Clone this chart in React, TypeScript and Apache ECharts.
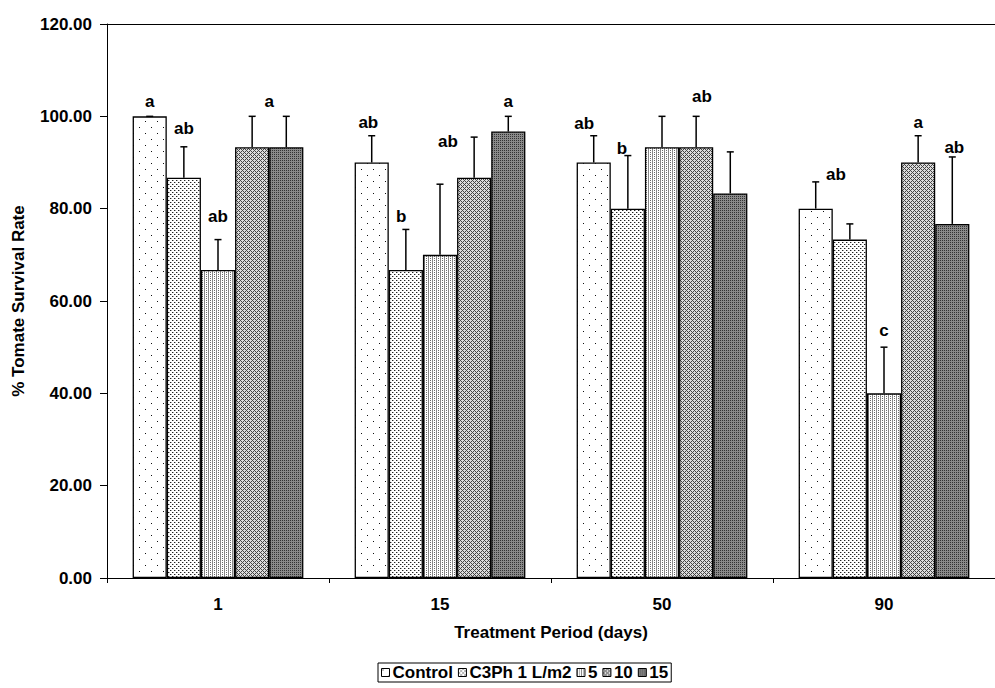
import React, { useEffect, useRef } from 'react';
import * as echarts from 'echarts';

const categories = ['1', '15', '50', '90'];
const seriesNames = ['Control', 'C3Ph 1 L/m2', '5', '10', '15'];

const controlValues = [100, 90, 90, 80];
const c3phValues = [86.7, 66.7, 80, 73.3];
const dose5Values = [66.7, 70, 93.3, 40];
const dose10Values = [93.3, 86.7, 93.3, 90];
const dose15Values = [93.3, 96.7, 83.3, 76.7];

const controlErr = [0, 5.8, 5.8, 5.8];
const c3phErr = [6.7, 8.8, 11.5, 3.4];
const dose5Err = [6.6, 15.3, 6.7, 10];
const dose10Err = [6.7, 8.8, 6.7, 5.8];
const dose15Err = [6.7, 3.3, 9.0, 14.5];

const yMin = 0;
const yMax = 120;
const yInterval = 20;

// significance letters: [category index, series index, letter, label height (value units), shift in bar widths]
const letters: [number, number, string, number, number][] = [
  [0, 0, 'a', 103.2, 0],
  [0, 1, 'ab', 97.3, 0],
  [0, 2, 'ab', 78.2, 0],
  [0, 3, 'a', 103.2, 0.5],
  [1, 0, 'ab', 98.6, -0.1],
  [1, 1, 'b', 78.2, -0.14],
  [1, 3, 'ab', 94.5, -0.77],
  [1, 4, 'a', 103.2, 0],
  [2, 0, 'ab', 98.5, -0.28],
  [2, 1, 'b', 93.1, -0.17],
  [2, 3, 'ab', 104.4, 0.17],
  [3, 1, 'ab', 87.3, -0.41],
  [3, 2, 'c', 53.7, 0],
  [3, 3, 'a', 98.6, 0],
  [3, 4, 'ab', 93.2, 0.06],
];

const FONT = '"Liberation Sans", Arial, sans-serif';
const BAR_FRAC = 0.1538;

function tile(w: number, h: number, bg: string, fn: (x: number, y: number) => string | null) {
  const c = document.createElement('canvas');
  c.width = w;
  c.height = h;
  const ctx = c.getContext('2d')!;
  ctx.fillStyle = bg;
  ctx.fillRect(0, 0, w, h);
  for (let y = 0; y < h; y++) {
    for (let x = 0; x < w; x++) {
      const col = fn(x, y);
      if (col) {
        ctx.fillStyle = col;
        ctx.fillRect(x, y, 1, 1);
      }
    }
  }
  return c;
}

function makePatterns() {
  const control = tile(12, 12, '#ffffff', (x, y) =>
    (x === 1 && y === 1) || (x === 7 && y === 7) ? '#111111' : null
  );
  const c3ph = tile(4, 4, '#ffffff', (x, y) => {
    if ((x === 0 && y === 0) || (x === 2 && y === 2)) return '#222222';
    if ((x === 1 && y === 0) || (x === 3 && y === 2)) return '#aaaaaa';
    return null;
  });
  const d5 = tile(4, 2, '#ffffff', (x, y) => {
    if (x === 0) return '#888888';
    if (x === 2 && y === 0) return '#6a6a6a';
    return null;
  });
  const d10 = tile(4, 4, '#dcdcdc', (x, y) =>
    (x + y) % 4 === 0 || (x - y + 4) % 4 === 0 ? '#444444' : null
  );
  const d15 = tile(2, 2, '#8a8a8a', (x, y) => (x === 0 && y === 0 ? '#333333' : null));
  return [control, c3ph, d5, d10, d15].map((c) => ({ image: c, repeat: 'repeat' }));
}

export default function App() {
  const ref = useRef<HTMLDivElement>(null);

  useEffect(() => {
    document.body.style.margin = '0';
    if (!ref.current) return;
    const chart = echarts.init(ref.current, undefined, { renderer: 'svg' });
    const patterns = makePatterns();
    const allValues = [controlValues, c3phValues, dose5Values, dose10Values, dose15Values];
    const allErr = [controlErr, c3phErr, dose5Err, dose10Err, dose15Err];

    const barSeries = allValues.map((vals, si) => ({
      name: seriesNames[si],
      type: 'bar',
      data: vals,
      barWidth: BAR_FRAC * 100 + '%',
      barGap: '0%',
      itemStyle: {
        color: patterns[si],
        borderColor: '#000',
        borderWidth: 1.3,
      },
      z: 2,
    }));

    const errSeries = allValues.map((vals, si) => ({
      type: 'custom',
      silent: true,
      z: 3,
      data: vals.map((v, ci) => [ci, v, allErr[si][ci]]),
      renderItem: (params: any, api: any) => {
        const ci = api.value(0);
        const v = api.value(1);
        const e = api.value(2);
        const band = api.size([1, 0])[0];
        const bw = band * BAR_FRAC;
        const p0 = api.coord([ci, v]);
        const p1 = api.coord([ci, v + e]);
        const x = p0[0] + (si - 2) * bw;
        return {
          type: 'group',
          children: [
            {
              type: 'line',
              shape: { x1: x, y1: p0[1], x2: x, y2: p1[1] },
              style: { stroke: '#000', lineWidth: 1.5 },
            },
            {
              type: 'line',
              shape: { x1: x - 3.5, y1: p1[1], x2: x + 3.5, y2: p1[1] },
              style: { stroke: '#000', lineWidth: 1.5 },
            },
          ],
        };
      },
    }));

    const letterSeries = {
      type: 'custom',
      silent: true,
      z: 4,
      data: letters.map((l) => [l[0], l[3]]),
      renderItem: (params: any, api: any) => {
        const l = letters[params.dataIndex];
        const band = api.size([1, 0])[0];
        const bw = band * BAR_FRAC;
        const p = api.coord([api.value(0), api.value(1)]);
        const x = p[0] + (l[1] - 2 + l[4]) * bw;
        return {
          type: 'text',
          x,
          y: p[1],
          style: {
            text: l[2],
            fontSize: 17,
            fontWeight: 'bold',
            fontFamily: FONT,
            fill: '#000',
            align: 'center',
            verticalAlign: 'middle',
            textAlign: 'center',
            textVerticalAlign: 'middle',
          },
        };
      },
    };

    chart.setOption({
      animation: false,
      textStyle: { fontFamily: FONT },
      grid: {
        left: 107,
        top: 24,
        width: 898,
        height: 554,
        show: false,
        containLabel: false,
      },
      legend: {
        data: seriesNames,
        left: 378,
        top: 663,
        orient: 'horizontal',
        itemWidth: 8,
        itemHeight: 8,
        itemGap: 5,
        padding: [1, 3, 1, 3],
        borderColor: '#000',
        borderWidth: 1,
        icon: 'rect',
        itemStyle: { borderColor: '#000', borderWidth: 1 },
        textStyle: { fontSize: 17, fontWeight: 'bold', color: '#000', fontFamily: FONT, padding: [0, 0, 0, -2] },
      },
      xAxis: [
        {
          type: 'category',
          data: categories,
          name: 'Treatment Period (days)',
          nameLocation: 'middle',
          nameGap: 46,
          nameTextStyle: { fontSize: 17, fontWeight: 'bold', color: '#000', fontFamily: FONT },
          axisLine: { lineStyle: { color: '#000', width: 1 } },
          axisTick: { show: true, length: 5, lineStyle: { color: '#000' } },
          axisLabel: { fontSize: 17, fontWeight: 'bold', color: '#000', margin: 18, fontFamily: FONT },
          splitLine: { show: false },
        },
        {
          type: 'category',
          data: categories,
          position: 'top',
          axisLine: { show: true, lineStyle: { color: '#000', width: 1 } },
          axisTick: { show: false },
          axisLabel: { show: false },
          splitLine: { show: false },
        },
      ],
      yAxis: {
        type: 'value',
        min: yMin,
        max: yMax,
        interval: yInterval,
        name: '% Tomate Survival Rate',
        nameLocation: 'middle',
        nameGap: 80,
        nameTextStyle: { fontSize: 17, fontWeight: 'bold', color: '#000', fontFamily: FONT },
        axisLine: { show: true, lineStyle: { color: '#000', width: 1 } },
        axisTick: { show: true, length: 7, lineStyle: { color: '#000' } },
        axisLabel: {
          fontSize: 17,
          fontWeight: 'bold',
          color: '#000',
          margin: 15,
          fontFamily: FONT,
          formatter: (v: number) => v.toFixed(2),
        },
        splitLine: { show: false },
      },
      series: [...barSeries, ...errSeries, letterSeries],
    });
    return () => chart.dispose();
  }, []);

  return <div ref={ref} style={{ width: 995, height: 688 }} />;
}
